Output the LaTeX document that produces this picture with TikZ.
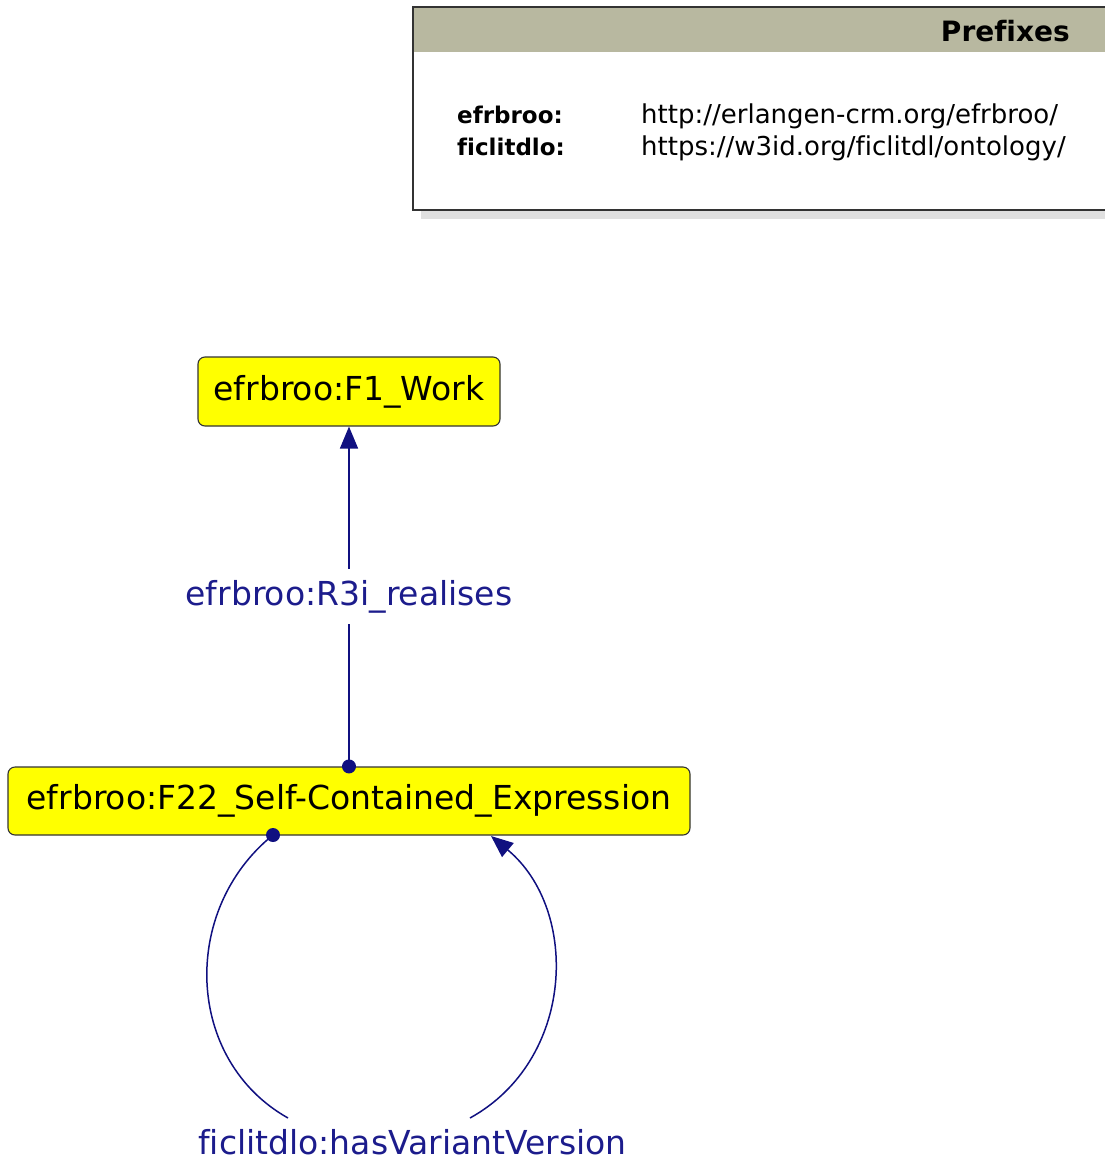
\documentclass[tikz,border=0pt]{standalone}
\usepackage{fontspec}
\setmainfont[Ligatures=NoCommon]{DejaVu Sans}
\usetikzlibrary{arrows.meta}
\definecolor{edgeblue}{RGB}{16,16,128}
\definecolor{labelblue}{RGB}{28,28,140}
\definecolor{classyellow}{RGB}{255,255,0}
\definecolor{headkhaki}{RGB}{184,184,160}
\begin{document}
\begin{tikzpicture}[x=1pt,y=-1pt,
  cls/.style={draw=black!80, line width=1.1pt, fill=classyellow, rounded corners=7pt,
    font=\fontsize{33}{38}\selectfont, inner sep=0pt},
  rel/.style={draw=edgeblue, line width=1.5pt},
  reltip/.style={-{Triangle[length=22pt,width=18pt]}},
  rellabel/.style={text=labelblue, font=\fontsize{33}{38}\selectfont, fill=white,
    inner xsep=2pt, inner ysep=11pt},
  dotend/.style={fill=edgeblue},
  pkey/.style={anchor=base west, inner sep=0pt, font=\bfseries\fontsize{23}{28}\selectfont},
  puri/.style={anchor=base west, inner sep=0pt, font=\fontsize{26}{30}\selectfont},
]
\useasboundingbox (0,0) rectangle (1105,1160);

% prefix table
\fill[black!12] (421,210) rectangle (1105,219);
\fill[white] (413,7) rectangle (1105,210);
\fill[headkhaki] (413,7) rectangle (1105,52);
\draw[line width=1.5pt, black!80] (1105,7) -- (413,7) -- (413,210) -- (1105,210);
\node[anchor=base east, inner sep=0pt, font=\bfseries\fontsize{28}{32}\selectfont] (ptitle) at (1070,41) {Prefixes};
\node[pkey] (k1) at (457,123) {efrbroo:};
\node[pkey] (k2) at (457,155) {ficlitdlo:};
\node[puri] (u1) at (641,123) {http://erlangen-crm.org/efrbroo/};
\node[puri] (u2) at (641,155) {https://w3id.org/ficlitdl/ontology/};

% classes
\node[cls, minimum width=302pt, minimum height=69pt] (f1) at (349,391.5) {efrbroo:F1\_Work};
\node[cls, minimum width=682pt, minimum height=68pt] (f22) at (349,801) {efrbroo:F22\_Self-Contained\_Expression};

% R3i_realises
\draw[rel, reltip] (f22.north) -- node[rellabel] (r3) {efrbroo:R3i\_realises} (f1.south);
\fill[dotend] (f22.north) circle (7pt);

% hasVariantVersion self loop
\coordinate (loopout) at (273,835);
\coordinate (loopin) at (491,836);
\node[text=labelblue, font=\fontsize{33}{38}\selectfont] (hv) at (412.5,1142) {ficlitdlo:hasVariantVersion};
\coordinate (hvl) at (288,1118);
\coordinate (hvr) at (470,1118);
\draw[rel] (loopout) .. controls (180,910) and (185,1060) .. (hvl);
\draw[rel, reltip] (hvr) .. controls (575,1060) and (580,910) .. (loopin);
\fill[dotend] (loopout) circle (7pt);
\end{tikzpicture}
\end{document}
